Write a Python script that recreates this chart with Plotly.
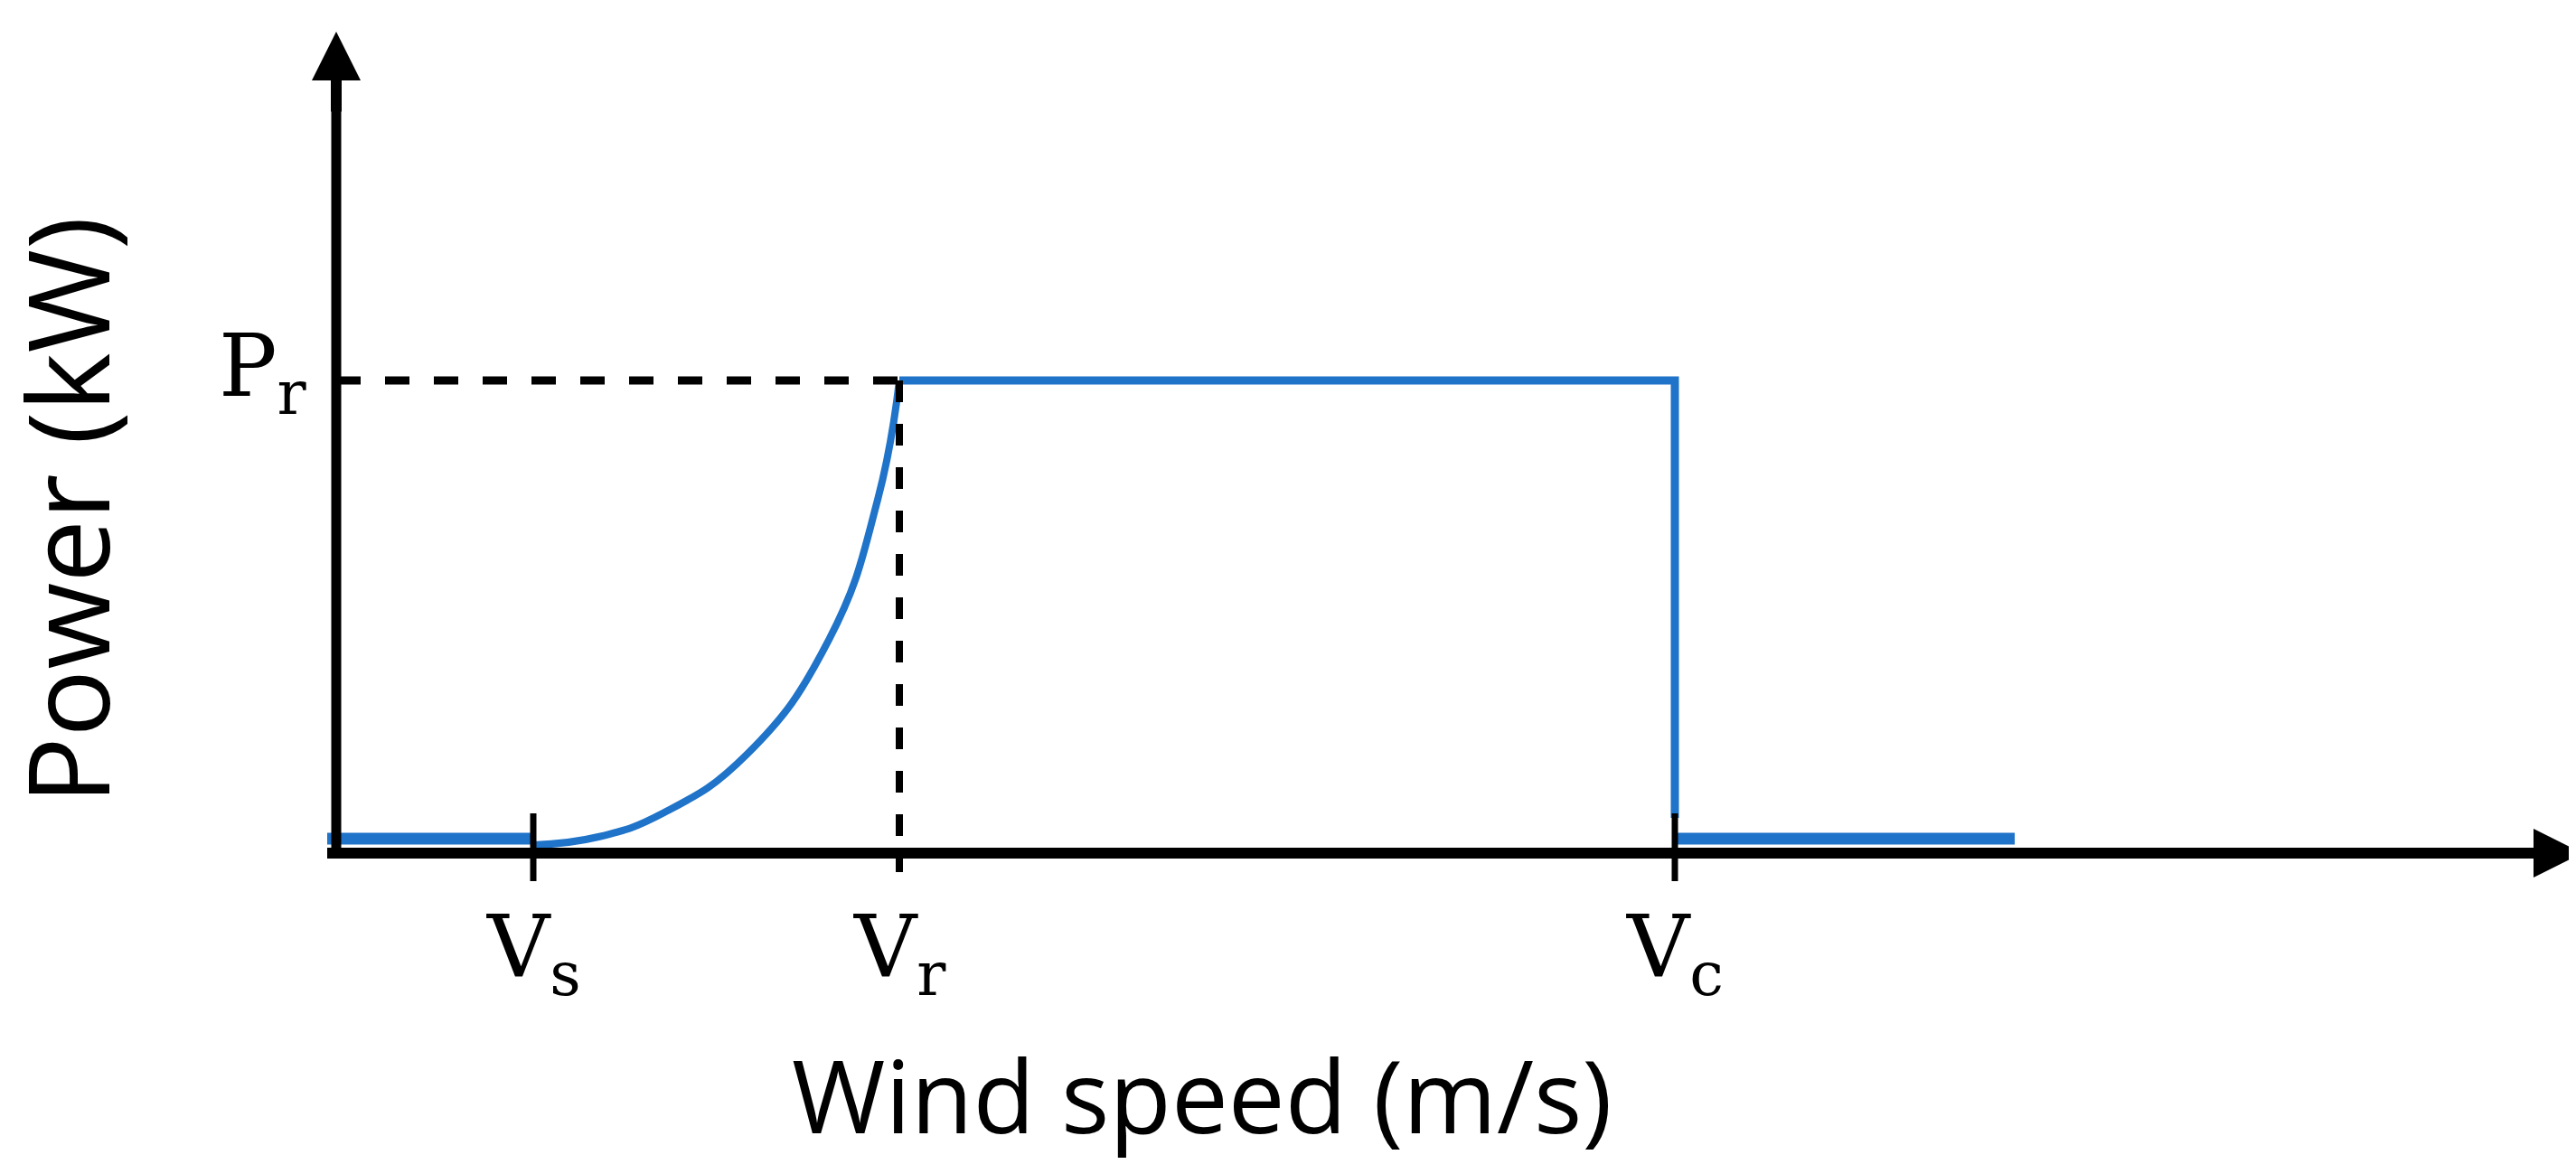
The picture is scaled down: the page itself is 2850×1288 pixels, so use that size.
import plotly.graph_objects as go

# Schematic wind-turbine power curve (arbitrary units)
V_s, V_r, V_c, V_end = 2.18, 6.23, 14.81, 18.57
P_r = 5.14
curve_x = [2.18, 2.90, 3.63, 4.54, 5.45, 5.99, 6.23]
curve_y = [0.0, 0.09, 0.36, 1.00, 2.27, 3.82, 5.14]
tick_labels = ["V<sub>s</sub>", "V<sub>r</sub>", "V<sub>c</sub>"]

BLUE = "#1f73c8"
fig = go.Figure()
fig.add_trace(go.Scatter(x=[-0.1, V_s], y=[0.07, 0.07], mode="lines",
                         line=dict(color=BLUE, width=13), hoverinfo="skip"))
fig.add_trace(go.Scatter(x=curve_x, y=curve_y, mode="lines", line_shape="spline",
                         line=dict(color=BLUE, width=8, smoothing=1.3), hoverinfo="skip"))
fig.add_trace(go.Scatter(x=[V_r, V_c, V_c], y=[P_r, P_r, 0.3], mode="lines",
                         line=dict(color=BLUE, width=9), hoverinfo="skip"))
fig.add_trace(go.Scatter(x=[V_c, V_end], y=[0.07, 0.07], mode="lines",
                         line=dict(color=BLUE, width=13), hoverinfo="skip"))

shapes = []
shapes.append(dict(type="line", x0=-0.1, x1=23.6, y0=-0.09, y1=-0.09, line=dict(color="black", width=12)))
shapes.append(dict(type="line", x0=0, x1=0, y0=-0.09, y1=8.3, line=dict(color="black", width=11)))
shapes.append(dict(type="line", x0=0, x1=V_r, y0=P_r, y1=P_r, line=dict(color="black", width=9, dash="dash")))
shapes.append(dict(type="line", x0=V_r, x1=V_r, y0=P_r, y1=-0.3, line=dict(color="black", width=8, dash="dash")))
for xv in [V_s, V_c]:
    shapes.append(dict(type="line", x0=xv, x1=xv, y0=0.35, y1=-0.4, line=dict(color="black", width=7)))
fig.update_layout(shapes=shapes)

ann = []
ann.append(dict(x=24.85, y=-0.09, ax=23.5, ay=-0.09, xref="x", yref="y", axref="x", ayref="y",
                showarrow=True, arrowhead=2, arrowsize=0.9, arrowwidth=12, arrowcolor="black", text=""))
ann.append(dict(x=0, y=9.0, ax=0, ay=8.1, xref="x", yref="y", axref="x", ayref="y",
                showarrow=True, arrowhead=2, arrowsize=0.9, arrowwidth=12, arrowcolor="black", text=""))
serif = dict(family="DejaVu Serif", size=96, color="black")
for xv, t in zip([V_s, V_r, V_c], tick_labels):
    ann.append(dict(x=xv, y=-0.55, text=t, showarrow=False, yanchor="top", font=serif))
ann.append(dict(x=-0.3, y=P_r + 0.1, text="P<sub>r</sub>", showarrow=False, xanchor="right", font=serif))
sans = dict(family="Open Sans", size=112, color="black")
ann.append(dict(x=9.57, y=-2.75, text="Wind speed (m/s)", showarrow=False, font=sans))
ann.append(dict(x=-3.0, y=3.7, text="Power (kW)", showarrow=False, textangle=-90,
                font=dict(family="Open Sans", size=124, color="black")))
fig.update_layout(annotations=ann)

fig.update_layout(width=2850, height=1288, margin=dict(l=0, r=0, t=0, b=0),
                  plot_bgcolor="white", paper_bgcolor="white", showlegend=False,
                  xaxis=dict(range=[-3.64, 24.86], visible=False),
                  yaxis=dict(range=[-3.61, 9.27], visible=False))
fig.write_html("out.html")
